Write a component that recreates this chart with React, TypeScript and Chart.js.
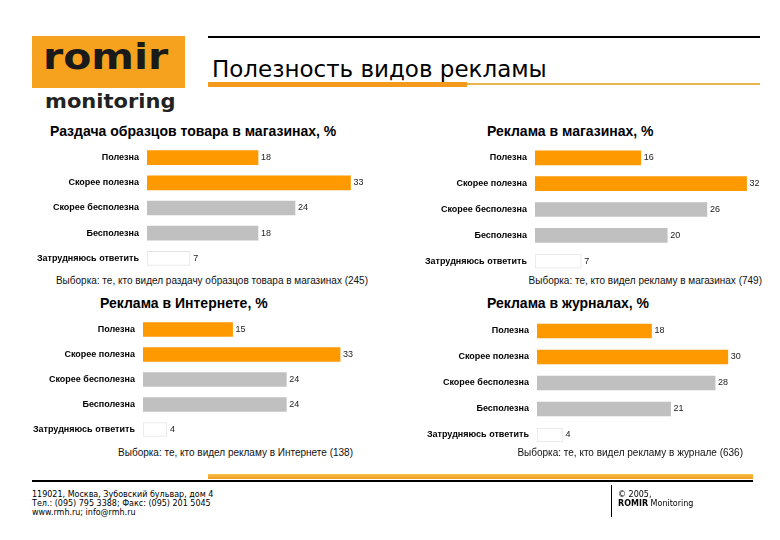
import React, { useEffect, useRef } from "react";
import { Chart, registerables } from "chart.js";

Chart.register(...registerables);

// ---- data ----
const categories = ["Полезна", "Скорее полезна", "Скорее бесполезна", "Бесполезна", "Затрудняюсь ответить"];
const sampleDistributionValues = [18, 33, 24, 18, 7];
const storeAdValues = [16, 32, 26, 20, 7];
const internetAdValues = [15, 33, 24, 24, 4];
const magazineAdValues = [18, 30, 28, 21, 4];

const panelTitles = [
  "Раздача образцов товара в магазинах, %",
  "Реклама в магазинах, %",
  "Реклама в Интернете, %",
  "Реклама в журналах, %",
];
const panelNotes = [
  "Выборка: те, кто видел раздачу образцов товара в магазинах (245)",
  "Выборка: те, кто видел рекламу в магазинах (749)",
  "Выборка: те, кто видел рекламу в Интернете (138)",
  "Выборка: те, кто видел рекламу в журнале (636)",
];
const pageTitle = "Полезность видов рекламы";
const footerLines = ["119021, Москва, Зубовский бульвар, дом 4", "Тел.: (095) 795 3388; Факс: (095) 201 5045", "www.rmh.ru; info@rmh.ru"];

// ---- styles ----
const ORANGE = "#FF9900";
const GRAY = "#C0C0C0";
const barColors = [ORANGE, ORANGE, GRAY, GRAY, "#FFFFFF"];
const barBorderColors = [ORANGE, ORANGE, GRAY, GRAY, "#E4E4E4"];
const barBorderWidths = [0, 0, 0, 0, 1];

const valueLabels = {
  id: "valueLabels",
  afterDatasetsDraw(chart: any) {
    const ctx = chart.ctx;
    const meta = chart.getDatasetMeta(0);
    const data = chart.data.datasets[0].data;
    ctx.save();
    ctx.font = '9px "Liberation Sans", Arial, sans-serif';
    ctx.fillStyle = "#222";
    ctx.textAlign = "left";
    ctx.textBaseline = "middle";
    meta.data.forEach((bar: any, i: number) => {
      ctx.fillText(String(data[i]), bar.x + 3, bar.y);
    });
    ctx.restore();
  },
};

type PanelProps = {
  values: number[];
  plotLeft: number;
  plotTop: number;
  plotWidth: number;
  plotHeight: number;
  max: number;
};

const AXIS_W = 120;

function BarPanel({ values, plotLeft, plotTop, plotWidth, plotHeight, max }: PanelProps) {
  const ref = useRef<HTMLCanvasElement>(null);
  useEffect(() => {
    if (!ref.current) return;
    const chart = new Chart(ref.current, {
      type: "bar",
      data: {
        labels: categories,
        datasets: [
          {
            data: values,
            backgroundColor: barColors,
            borderColor: barBorderColors,
            borderWidth: barBorderWidths,
            borderSkipped: false,
            barThickness: 14,
          },
        ],
      },
      options: {
        indexAxis: "y",
        responsive: false,
        maintainAspectRatio: false,
        animation: false,
        layout: { padding: 0 },
        plugins: { legend: { display: false }, tooltip: { enabled: false }, title: { display: false } },
        scales: {
          x: { display: false, min: 0, max },
          y: {
            grid: { display: false, drawTicks: false },
            border: { display: false },
            ticks: {
              color: "#000",
              padding: 8,
              font: { family: '"Liberation Sans", Arial, sans-serif', size: 9, weight: "bold" },
            },
            afterFit: (s: any) => {
              s.width = AXIS_W;
              s.paddingTop = 0;
              s.paddingBottom = 0;
            },
          },
        },
      } as any,
      plugins: [valueLabels],
    });
    return () => chart.destroy();
  }, []);
  const w = AXIS_W + plotWidth;
  return (
    <canvas
      ref={ref}
      width={w}
      height={plotHeight}
      style={{ position: "absolute", left: plotLeft - AXIS_W, top: plotTop, width: w, height: plotHeight }}
    />
  );
}

const abs = (s: React.CSSProperties): React.CSSProperties => ({ position: "absolute", ...s });

export default function App() {
  const titleFont = '"Liberation Sans", Arial, sans-serif';
  const verd = '"DejaVu Sans", Verdana, sans-serif';
  const pt: React.CSSProperties = { fontSize: 14, fontWeight: "bold", lineHeight: "16px", whiteSpace: "nowrap" };
  const note: React.CSSProperties = { fontSize: 10, lineHeight: "12px", color: "#111", whiteSpace: "nowrap" };
  return (
    <div style={abs({ left: 0, top: 0, width: 780, height: 540, background: "#fff", overflow: "hidden", fontFamily: titleFont })}>
      {/* logo */}
      <div style={abs({ left: 32, top: 36, width: 153, height: 52, background: "#F7A21E" })} />
      <div
        style={abs({
          left: 43,
          top: 37,
          fontFamily: verd,
          fontWeight: "bold",
          fontSize: 35,
          lineHeight: "40px",
          color: "#1a1a1a",
          transform: "scaleX(1.17)",
          transformOrigin: "left top",
        })}
      >
        romir
      </div>
      <div
        style={abs({
          left: 45,
          top: 89,
          fontFamily: verd,
          fontWeight: "bold",
          fontSize: 20,
          lineHeight: "24px",
          color: "#222",
          transform: "scaleX(1.05)",
          transformOrigin: "left top",
        })}
      >
        monitoring
      </div>

      {/* header */}
      <div style={abs({ left: 208, top: 36, width: 552, height: 2, background: "#000" })} />
      <div style={abs({ left: 212, top: 56, fontFamily: verd, fontSize: 23, lineHeight: "26px", color: "#000", whiteSpace: "nowrap" })}>
        {pageTitle}
      </div>
      <div style={abs({ left: 208, top: 83, width: 552, height: 2, background: "#E9B44C" })} />
      <div style={abs({ left: 208, top: 82, width: 259, height: 5, background: "#F39A1E" })} />

      {/* panel titles */}
      <div style={abs({ left: 50, top: 123, ...pt })}>{panelTitles[0]}</div>
      <div style={abs({ left: 487, top: 123, ...pt })}>{panelTitles[1]}</div>
      <div style={abs({ left: 100, top: 295, ...pt })}>{panelTitles[2]}</div>
      <div style={abs({ left: 487, top: 295, ...pt })}>{panelTitles[3]}</div>

      {/* charts */}
      <BarPanel values={sampleDistributionValues} plotLeft={147} plotTop={145} plotWidth={222} plotHeight={126} max={36} />
      <BarPanel values={storeAdValues} plotLeft={535} plotTop={145} plotWidth={238} plotHeight={129} max={36} />
      <BarPanel values={internetAdValues} plotLeft={143} plotTop={317} plotWidth={215} plotHeight={125} max={36} />
      <BarPanel values={magazineAdValues} plotLeft={537} plotTop={318} plotWidth={229} plotHeight={130} max={36} />

      {/* notes */}
      <div style={abs({ right: 780 - 368, top: 275, ...note })}>{panelNotes[0]}</div>
      <div style={abs({ right: 780 - 762, top: 275, ...note })}>{panelNotes[1]}</div>
      <div style={abs({ right: 780 - 353, top: 447, ...note })}>{panelNotes[2]}</div>
      <div style={abs({ right: 780 - 743, top: 447, ...note })}>{panelNotes[3]}</div>

      {/* footer */}
      <div style={abs({ left: 208, top: 474, width: 545, height: 5, background: "linear-gradient(#F6C24A, #F39A1E)" })} />
      <div style={abs({ left: 32, top: 480, width: 721, height: 2, background: "#000" })} />
      <div style={abs({ left: 611, top: 485, width: 1, height: 32, background: "#000" })} />
      <div style={abs({ left: 32, top: 490, fontFamily: verd, fontSize: 8, lineHeight: "9px", color: "#000", whiteSpace: "nowrap" })}>
        {footerLines.map((l, i) => (
          <div key={i}>{l}</div>
        ))}
      </div>
      <div style={abs({ left: 618, top: 490, fontFamily: verd, fontSize: 8, lineHeight: "9px", color: "#000", whiteSpace: "nowrap" })}>
        <div>© 2005,</div>
        <div>
          <b>ROMIR</b> Monitoring
        </div>
      </div>
    </div>
  );
}
